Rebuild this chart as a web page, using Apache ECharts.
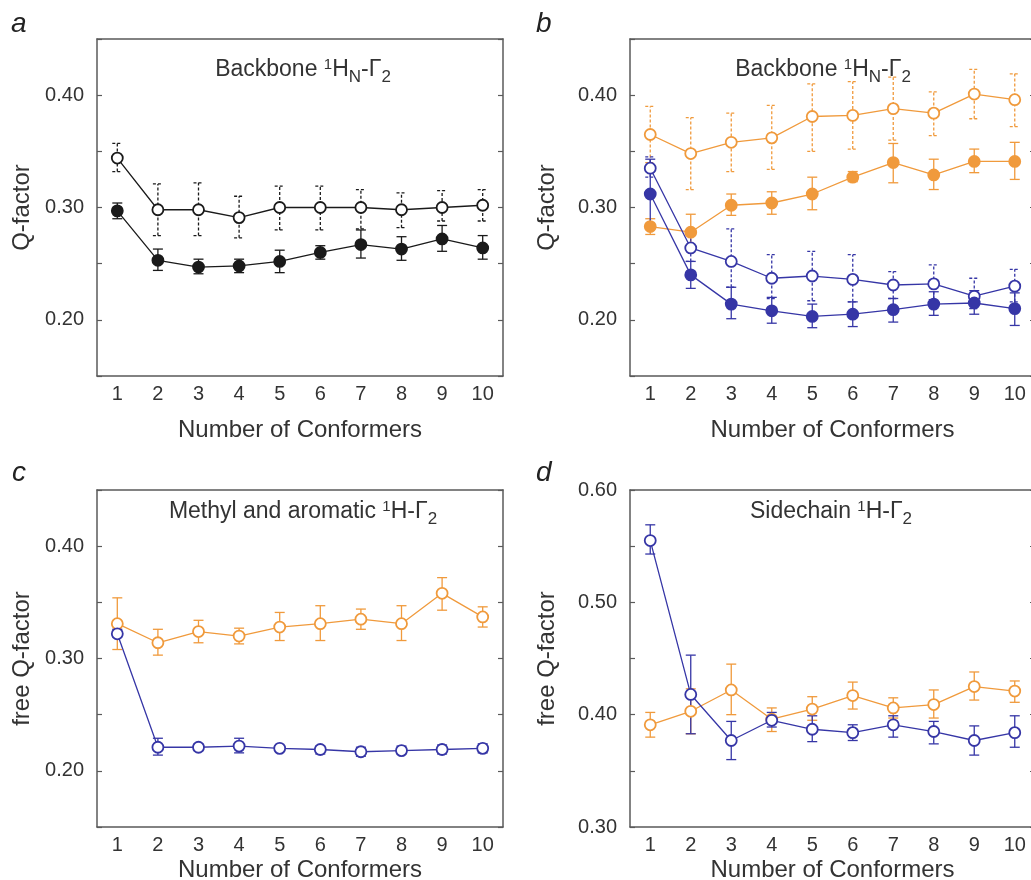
<!DOCTYPE html>
<html>
<head>
<meta charset="utf-8">
<title>Q-factor vs number of conformers</title>
<script src="https://cdn.jsdelivr.net/npm/echarts@6/dist/echarts.min.js"></script>
<style>
body { margin: 0; background: #fff; }
#chart { width: 1031px; height: 880px; }
</style>
</head>
<body>
<div id="chart"></div>
<script>
var conformers = ['1', '2', '3', '4', '5', '6', '7', '8', '9', '10'];

// panel a (black)
var aFilled     = [0.297, 0.253, 0.247, 0.248, 0.252, 0.260, 0.267, 0.263, 0.272, 0.264];
var aFilledLow  = [0.290, 0.244, 0.241, 0.242, 0.242, 0.254, 0.255, 0.253, 0.261, 0.254];
var aFilledHigh = [0.304, 0.263, 0.254, 0.254, 0.262, 0.266, 0.280, 0.274, 0.284, 0.275];
var aOpen       = [0.344, 0.298, 0.298, 0.291, 0.300, 0.300, 0.300, 0.298, 0.300, 0.302];
var aOpenLow    = [0.332, 0.275, 0.275, 0.273, 0.280, 0.280, 0.281, 0.282, 0.288, 0.288];
var aOpenHigh   = [0.357, 0.321, 0.322, 0.310, 0.319, 0.319, 0.316, 0.313, 0.315, 0.316];

// panel b
var bOrangeOpen       = [0.365, 0.348, 0.358, 0.362, 0.381, 0.382, 0.388, 0.384, 0.401, 0.396];
var bOrangeOpenLow    = [0.340, 0.316, 0.332, 0.334, 0.350, 0.352, 0.360, 0.364, 0.379, 0.372];
var bOrangeOpenHigh   = [0.390, 0.380, 0.384, 0.391, 0.410, 0.412, 0.416, 0.403, 0.423, 0.419];
var bOrangeFilled     = [0.283, 0.278, 0.302, 0.304, 0.312, 0.327, 0.340, 0.329, 0.341, 0.341];
var bOrangeFilledLow  = [0.276, 0.265, 0.293, 0.294, 0.298, 0.323, 0.322, 0.316, 0.331, 0.325];
var bOrangeFilledHigh = [0.290, 0.294, 0.312, 0.314, 0.327, 0.332, 0.357, 0.343, 0.352, 0.358];
var bBlueOpen         = [0.335, 0.264, 0.252, 0.237, 0.239, 0.236, 0.231, 0.232, 0.221, 0.230];
var bBlueOpenLow      = [0.327, 0.252, 0.229, 0.219, 0.217, 0.216, 0.219, 0.218, 0.210, 0.216];
var bBlueOpenHigh     = [0.345, 0.279, 0.281, 0.258, 0.261, 0.258, 0.243, 0.249, 0.237, 0.245];
var bBlueFilled       = [0.312, 0.240, 0.214, 0.208, 0.203, 0.205, 0.209, 0.214, 0.215, 0.210];
var bBlueFilledLow    = [0.282, 0.228, 0.201, 0.197, 0.193, 0.194, 0.198, 0.204, 0.205, 0.195];
var bBlueFilledHigh   = [0.343, 0.252, 0.229, 0.220, 0.214, 0.216, 0.219, 0.225, 0.226, 0.224];

// panel c
var cOrange     = [0.331, 0.314, 0.324, 0.320, 0.328, 0.331, 0.335, 0.331, 0.358, 0.337];
var cOrangeLow  = [0.308, 0.303, 0.314, 0.313, 0.316, 0.316, 0.326, 0.316, 0.343, 0.328];
var cOrangeHigh = [0.354, 0.326, 0.334, 0.327, 0.341, 0.347, 0.344, 0.347, 0.372, 0.346];
var cBlue       = [0.322, 0.221, 0.221, 0.222, 0.220, 0.219, 0.217, 0.218, 0.219, 0.220];
var cBlueLow    = [0.319, 0.214, 0.218, 0.216, 0.218, 0.215, 0.213, 0.215, 0.215, 0.216];
var cBlueHigh   = [0.326, 0.229, 0.224, 0.229, 0.222, 0.222, 0.221, 0.222, 0.223, 0.224];

// panel d
var dBlue       = [0.555, 0.418, 0.377, 0.395, 0.387, 0.384, 0.391, 0.385, 0.377, 0.384];
var dBlueLow    = [0.543, 0.383, 0.360, 0.389, 0.376, 0.377, 0.380, 0.374, 0.364, 0.371];
var dBlueHigh   = [0.569, 0.453, 0.394, 0.402, 0.399, 0.391, 0.399, 0.394, 0.390, 0.399];
var dOrange     = [0.391, 0.403, 0.422, 0.396, 0.405, 0.417, 0.406, 0.409, 0.425, 0.421];
var dOrangeLow  = [0.380, 0.383, 0.400, 0.385, 0.395, 0.405, 0.397, 0.397, 0.413, 0.411];
var dOrangeHigh = [0.402, 0.423, 0.445, 0.406, 0.416, 0.429, 0.415, 0.422, 0.438, 0.430];

var FONT = 'Liberation Sans, Arial, Helvetica, sans-serif';
var BLACK = '#1a1a1a';
var ORANGE = '#F09A3C';
var BLUE = '#3636A6';
var FRAME = '#5a5a5a';
var TEXT = '#333';

// right-hand panels run a little past the page edge, as in the original figure
var grids = [
	{ left: 97, top: 39, width: 406, height: 337, outerBoundsMode: 'none' },
	{ left: 630, top: 39, width: 405, height: 337, outerBoundsMode: 'none' },
	{ left: 97, top: 490, width: 406, height: 337, outerBoundsMode: 'none' },
	{ left: 630, top: 490, width: 405, height: 337, outerBoundsMode: 'none' }
];
var yRanges = [[0.15, 0.45], [0.15, 0.45], [0.15, 0.45], [0.30, 0.60]];
var yNames = ['Q-factor', 'Q-factor', 'free Q-factor', 'free Q-factor'];
var yNameGaps = [63, 71, 63, 71];
var xNameGaps = [42, 42, 31, 31];

var xAxes = [], yAxes = [];
grids.forEach(function(g, i) {
	xAxes.push({
		type: 'category', gridIndex: i, data: conformers, position: 'bottom',
		axisLine: { lineStyle: { color: FRAME, width: 1.5 } },
		axisTick: { inside: true, alignWithLabel: true, length: 5, lineStyle: { color: FRAME, width: 1.2 } },
		axisLabel: { fontSize: 20, color: TEXT, margin: 8, fontFamily: FONT },
		name: 'Number of Conformers', nameLocation: 'middle', nameGap: xNameGaps[i],
		nameTextStyle: { fontSize: 24, color: TEXT, fontFamily: FONT }
	});
	xAxes.push({
		type: 'category', gridIndex: i, data: conformers, position: 'top',
		axisLine: { lineStyle: { color: FRAME, width: 1.5 } },
		axisTick: { inside: true, alignWithLabel: true, length: 5, lineStyle: { color: FRAME, width: 1.2 } },
		axisLabel: { show: false }
	});
	yAxes.push({
		type: 'value', gridIndex: i, min: yRanges[i][0], max: yRanges[i][1], interval: 0.05, position: 'left',
		axisLine: { show: true, lineStyle: { color: FRAME, width: 1.5 } },
		axisTick: { show: true, inside: true, length: 5, lineStyle: { color: FRAME, width: 1.2 } },
		splitLine: { show: false },
		axisLabel: {
			fontSize: 20, color: TEXT, margin: 13, fontFamily: FONT,
			formatter: function(v) { return Math.round(v * 100) % 10 === 0 ? v.toFixed(2) : ''; }
		},
		name: yNames[i], nameLocation: 'middle', nameGap: yNameGaps[i],
		nameTextStyle: { fontSize: 24, color: TEXT, fontFamily: FONT }
	});
	yAxes.push({
		type: 'value', gridIndex: i, min: yRanges[i][0], max: yRanges[i][1], interval: 0.05, position: 'right',
		axisLine: { show: true, lineStyle: { color: FRAME, width: 1.5 } },
		axisTick: { show: true, inside: true, length: 5, lineStyle: { color: FRAME, width: 1.2 } },
		splitLine: { show: false },
		axisLabel: { show: false }
	});
});

function pointSeries(i, data, color, filled) {
	return {
		type: 'line', xAxisIndex: 2 * i, yAxisIndex: 2 * i, data: data, z: 3,
		symbol: 'circle', symbolSize: 11, showSymbol: true,
		lineStyle: { color: color, width: 1.3 },
		itemStyle: { color: filled ? color : '#fff', borderColor: color, borderWidth: 1.8 }
	};
}

function errorSeries(i, low, high, color, dashed) {
	var rows = low.map(function(l, k) { return [k, l, high[k]]; });
	return {
		type: 'custom', xAxisIndex: 2 * i, yAxisIndex: 2 * i, data: rows, z: 1,
		encode: { x: 0, y: [1, 2] },
		renderItem: function(params, api) {
			var x = api.value(0);
			var lo = api.coord([x, api.value(1)]);
			var hi = api.coord([x, api.value(2)]);
			var st = { stroke: color, lineWidth: 1.3, lineDash: dashed ? [3, 2] : null };
			var cap = 5;
			return {
				type: 'group',
				children: [
					{ type: 'line', shape: { x1: lo[0], y1: lo[1], x2: hi[0], y2: hi[1] }, style: st },
					{ type: 'line', shape: { x1: lo[0] - cap, y1: lo[1], x2: lo[0] + cap, y2: lo[1] }, style: st },
					{ type: 'line', shape: { x1: hi[0] - cap, y1: hi[1], x2: hi[0] + cap, y2: hi[1] }, style: st }
				]
			};
		}
	};
}

var series = [
	errorSeries(0, aOpenLow, aOpenHigh, BLACK, true),
	errorSeries(0, aFilledLow, aFilledHigh, BLACK, false),
	pointSeries(0, aOpen, BLACK, false),
	pointSeries(0, aFilled, BLACK, true),

	errorSeries(1, bOrangeOpenLow, bOrangeOpenHigh, ORANGE, true),
	errorSeries(1, bOrangeFilledLow, bOrangeFilledHigh, ORANGE, false),
	errorSeries(1, bBlueOpenLow, bBlueOpenHigh, BLUE, true),
	errorSeries(1, bBlueFilledLow, bBlueFilledHigh, BLUE, false),
	pointSeries(1, bOrangeOpen, ORANGE, false),
	pointSeries(1, bOrangeFilled, ORANGE, true),
	pointSeries(1, bBlueOpen, BLUE, false),
	pointSeries(1, bBlueFilled, BLUE, true),

	errorSeries(2, cOrangeLow, cOrangeHigh, ORANGE, false),
	errorSeries(2, cBlueLow, cBlueHigh, BLUE, false),
	pointSeries(2, cOrange, ORANGE, false),
	pointSeries(2, cBlue, BLUE, false),

	errorSeries(3, dOrangeLow, dOrangeHigh, ORANGE, false),
	errorSeries(3, dBlueLow, dBlueHigh, BLUE, false),
	pointSeries(3, dOrange, ORANGE, false),
	pointSeries(3, dBlue, BLUE, false)
];

var rich = {
	n: { fontSize: 23, fontFamily: FONT, fill: TEXT },
	sup: { fontSize: 15, fontFamily: FONT, fill: TEXT, padding: [0, 0, 10, 0] },
	sub: { fontSize: 17, fontFamily: FONT, fill: TEXT, padding: [14, 0, 0, 0] }
};

function titleText(x, y, text) {
	return {
		type: 'text', x: x, y: y, z: 10,
		style: { text: text, rich: rich, align: 'center', verticalAlign: 'middle', fill: TEXT, fontSize: 23, fontFamily: FONT }
	};
}
function letter(x, y, t) {
	return {
		type: 'text', x: x, y: y, z: 10,
		style: { text: t, fill: '#222', fontSize: 28, fontStyle: 'italic', fontFamily: FONT, verticalAlign: 'middle' }
	};
}

var chart = echarts.init(document.getElementById('chart'));
chart.setOption({
	backgroundColor: '#fff',
	animation: false,
	grid: grids,
	xAxis: xAxes,
	yAxis: yAxes,
	series: series,
	graphic: [
		titleText(303, 70, '{n|Backbone }{sup|1}{n|H}{sub|N}{n|-Γ}{sub|2}'),
		titleText(823, 70, '{n|Backbone }{sup|1}{n|H}{sub|N}{n|-Γ}{sub|2}'),
		titleText(303, 512, '{n|Methyl and aromatic }{sup|1}{n|H-Γ}{sub|2}'),
		titleText(831, 512, '{n|Sidechain }{sup|1}{n|H-Γ}{sub|2}'),
		letter(11, 24, 'a'),
		letter(536, 24, 'b'),
		letter(12, 473, 'c'),
		letter(536, 473, 'd')
	]
});
</script>
</body>
</html>
